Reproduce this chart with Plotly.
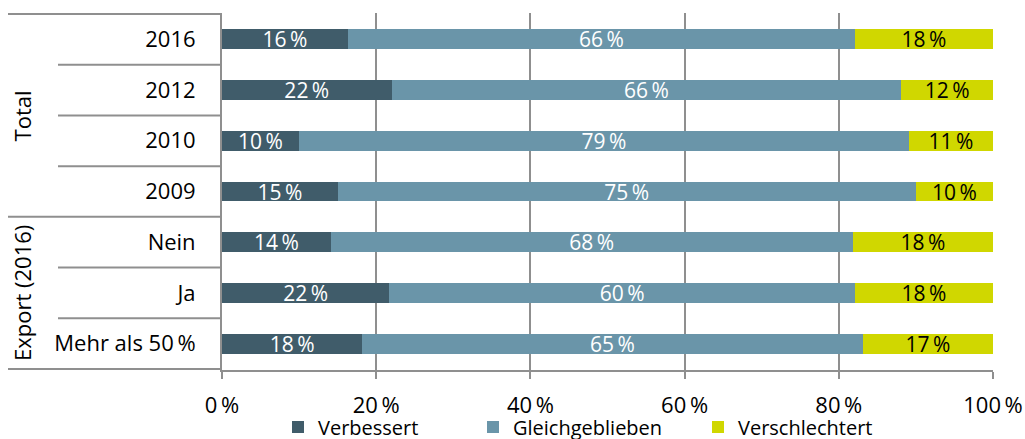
import plotly.graph_objects as go

# ---------------- data ----------------
groups = ["Total", "Total", "Total", "Total", "Export (2016)", "Export (2016)", "Export (2016)"]
categories = ["2016", "2012", "2010", "2009", "Nein", "Ja", "Mehr als 50\u2009%"]
verbessert = [16.3, 22.0, 10.0, 15.0, 14.1, 21.7, 18.2]
gleichgeblieben = [65.8, 66.1, 79.1, 75.0, 67.7, 60.4, 64.9]
verschlechtert = [17.9, 11.9, 10.9, 10.0, 18.2, 17.9, 16.9]
series_names = ["Verbessert", "Gleichgeblieben", "Verschlechtert"]
x_ticks = [0, 20, 40, 60, 80, 100]
x_tick_labels = ["0\u2009%", "20\u2009%", "40\u2009%", "60\u2009%", "80\u2009%", "100\u2009%"]

# ---------------- style ----------------
colors = ["#405c6a", "#6a95a9", "#d0d700"]
text_colors = ["white", "white", "black"]
FONT = "Open Sans"
FS = 22
FS_LEG = 20
FS_BAR = 21
GRID = "#8f8f8f"

W, H = 1025, 439
L, R, T, B = 222, 32, 13, 69
plot_w = W - L - R
plot_h = H - T - B

def px_to_paper_x(px):
    return (px - L) / plot_w

def px_to_paper_y(py):
    return (H - B - py) / plot_h

fig = go.Figure()
legend_ids = ["legend", "legend2", "legend3"]
for name, vals, col, tcol, lg in zip(series_names,
                                     [verbessert, gleichgeblieben, verschlechtert],
                                     colors, text_colors, legend_ids):
    fig.add_trace(go.Bar(
        y=categories, x=vals, name=name, orientation="h",
        marker=dict(color=col, line=dict(width=0)),
        width=0.39,
        text=[f"{v:.0f}\u2009%" for v in vals],
        textposition="inside", insidetextanchor="middle", textangle=0,
        textfont=dict(color=tcol, size=FS_BAR, family=FONT),
        constraintext="none",
        legend=lg,
        hoverinfo="skip",
    ))

# table-like divider lines on the left
n = len(categories)
shapes = []
for k in range(n + 1):
    yb = k - 0.5
    is_group_edge = (k == 0 or k == n or groups[k] != groups[k - 1])
    x0 = px_to_paper_x(8) if is_group_edge else px_to_paper_x(58)
    shapes.append(dict(type="line", xref="paper", yref="y", x0=x0, x1=0,
                       y0=yb, y1=yb, line=dict(color=GRID, width=2)))

# group labels
annotations = []
uniq = []
for g in groups:
    if g not in uniq:
        uniq.append(g)
for g in uniq:
    idx = [i for i, gg in enumerate(groups) if gg == g]
    annotations.append(dict(
        text=g, xref="paper", yref="y", x=px_to_paper_x(22),
        y=(idx[0] + idx[-1]) / 2, textangle=-90, showarrow=False,
        font=dict(size=FS, family=FONT, color="black"),
        xanchor="center", yanchor="middle"))

legend_text_x = [318, 513, 738]
legend_common = dict(orientation="h", yanchor="middle", xanchor="left",
                     y=px_to_paper_y(427), font=dict(size=FS_LEG, family=FONT, color="black"),
                     bgcolor="rgba(0,0,0,0)", itemwidth=30, tracegroupgap=0)
layouts = {}
for lg, tx in zip(legend_ids, legend_text_x):
    layouts[lg] = dict(x=px_to_paper_x(tx - 40), **legend_common)

fig.update_layout(
    width=W, height=H,
    margin=dict(l=L, r=R, t=T, b=B, pad=0, autoexpand=False),
    barmode="stack",
    plot_bgcolor="white", paper_bgcolor="white",
    font=dict(family=FONT, size=FS, color="black"),
    uniformtext=dict(mode="show", minsize=FS_BAR),
    shapes=shapes, annotations=annotations,
    showlegend=True,
    **layouts,
)
fig.update_xaxes(
    range=[0, 100], tickvals=x_ticks, ticktext=x_tick_labels,
    showgrid=True, gridcolor=GRID, gridwidth=2,
    showline=True, linecolor=GRID, linewidth=2,
    ticks="outside", ticklen=7, tickcolor=GRID, tickwidth=2,
    ticklabelstandoff=8, zeroline=False, automargin=False,
    tickfont=dict(size=FS, family=FONT, color="black"),
)
fig.update_yaxes(
    type="category", categoryorder="array", categoryarray=categories,
    autorange="reversed", showgrid=False, zeroline=False,
    showline=True, linecolor=GRID, linewidth=2, ticks="",
    ticklabelstandoff=20, automargin=False,
    tickfont=dict(size=FS, family=FONT, color="black"),
)

fig.write_html(
    "out.html",
    config={"displayModeBar": False},
    post_script="document.body.style.margin='0';document.body.style.overflow='hidden';",
)
